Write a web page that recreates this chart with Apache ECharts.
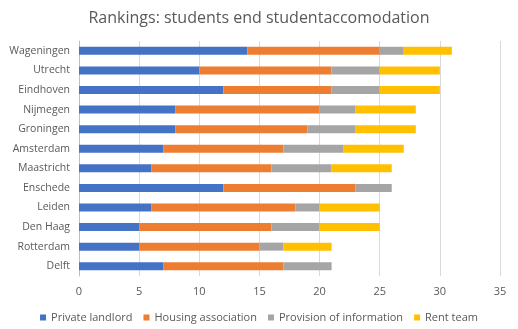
<!DOCTYPE html>
<html><head><meta charset="utf-8">
<script src="https://cdn.jsdelivr.net/npm/echarts@6/dist/echarts.min.js"></script>
<style>html,body{margin:0;padding:0;background:#fff}#c{width:518px;height:329px}</style>
</head><body><div id="c"></div>
<script>
var cities = ['Wageningen','Utrecht','Eindhoven','Nijmegen','Groningen','Amsterdam','Maastricht','Enschede','Leiden','Den Haag','Rotterdam','Delft'];
var privateLandlord    = [14,10,12, 8, 8, 7, 6,12, 6, 5, 5, 7];
var housingAssociation = [11,11, 9,12,11,10,10,11,12,11,10,10];
var provisionInfo      = [ 2, 4, 4, 3, 4, 5, 5, 3, 2, 4, 2, 4];
var rentTeam           = [ 4, 5, 5, 5, 5, 5, 5, 0, 5, 5, 4, 0];
var seriesNames = ['Private landlord','Housing association','Provision of information','Rent team'];
var colors = ['#4472C4','#ED7D31','#A5A5A5','#FFC000'];
var font = 'Open Sans, Liberation Sans, sans-serif';
var chart = echarts.init(document.getElementById('c'));
var datas = [privateLandlord, housingAssociation, provisionInfo, rentTeam];
chart.setOption({
  animation:false,
  color: colors,
  title:{text:'Rankings: students end studentaccomodation',left:'center',top:5,
    textStyle:{fontFamily:font,fontSize:16,fontWeight:'normal',color:'#595959'}},
  grid:{left:79,right:18,top:41,bottom:53,containLabel:false},
  legend:{bottom:1,left:'center',itemWidth:6,itemHeight:6,itemGap:11,icon:'rect',
    textStyle:{fontFamily:font,fontSize:11,color:'#595959'}},
  xAxis:{type:'value',min:0,max:35,interval:5,
    axisLine:{show:false},axisTick:{show:false},
    axisLabel:{fontFamily:font,fontSize:11,color:'#595959',margin:10},
    splitLine:{lineStyle:{color:'#D9D9D9'}}},
  yAxis:{type:'category',data:cities,inverse:true,
    axisLine:{show:true,lineStyle:{color:'#BFBFBF'}},axisTick:{show:false},
    axisLabel:{fontFamily:font,fontSize:10.5,color:'#595959',margin:9}},
  series: seriesNames.map(function(n,i){return {name:n,type:'bar',stack:'s',data:datas[i],barWidth:8};})
});
</script></body></html>
